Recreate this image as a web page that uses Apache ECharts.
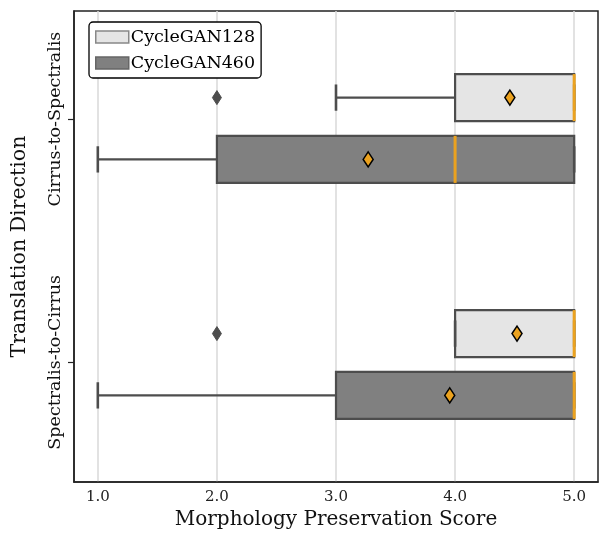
<!DOCTYPE html>
<html>
<head>
<meta charset="utf-8">
<script src="https://cdn.jsdelivr.net/npm/echarts@6/dist/echarts.min.js"></script>
<style>
html,body{margin:0;padding:0;background:#fff;}
#c{width:605px;height:540px;}
</style>
</head>
<body>
<div id="c"></div>
<script>
// ---- data ----
const categories = ['Cirrus-to-Spectralis', 'Spectralis-to-Cirrus'];
const seriesNames = ['CycleGAN128', 'CycleGAN460'];
// [whiskerLow, Q1, median, Q3, whiskerHigh] per category
const cyclegan128Box = [[3, 4, 5, 5, 5], [4, 4, 5, 5, 5]];
const cyclegan460Box = [[1, 2, 4, 5, 5], [1, 3, 5, 5, 5]];
const cyclegan128Mean = [4.46, 4.52];
const cyclegan460Mean = [3.27, 3.955];
// [categoryIndex, value]
const cyclegan128Outliers = [[0, 2], [1, 2]];
const cyclegan460Outliers = [];
const xTicks = [1.0, 2.0, 3.0, 4.0, 5.0];

// ---- layout / style ----
const FONT = 'DejaVu Serif';
const groupShift = [0.039, 0.009];
const dodge = [-0.127, 0.127];
const halfH = 0.0966;
const capHalf = 0.054;
const fills = ['#e5e5e5', '#808080'];
const lineCol = '#4d4d4d';
const medCol = '#eba21f';

function boxSeries(idx, boxes, means) {
  const data = boxes.map((b, i) => [i].concat(b).concat([means[i]]));
  return {
    type: 'custom',
    name: seriesNames[idx],
    data: data,
    z: 3,
    renderItem: function (params, api) {
      const cat = api.value(0);
      const yc = cat + groupShift[cat] + dodge[idx];
      const lo = api.value(1), q1 = api.value(2), med = api.value(3), q3 = api.value(4), hi = api.value(5), mean = api.value(6);
      const pTop = api.coord([q1, yc - halfH]);
      const pBot = api.coord([q3, yc + halfH]);
      const pc = (v, dy) => api.coord([v, yc + (dy || 0)]);
      const lw = 2.2;
      const ls = {stroke: lineCol, lineWidth: lw};
      const children = [];
      children.push({type: 'line', shape: {x1: pc(lo)[0], y1: pc(lo)[1], x2: pc(q1)[0], y2: pc(q1)[1]}, style: ls});
      children.push({type: 'line', shape: {x1: pc(q3)[0], y1: pc(q3)[1], x2: pc(hi)[0], y2: pc(hi)[1]}, style: ls});
      children.push({type: 'rect', shape: {x: pTop[0], y: pTop[1], width: pBot[0] - pTop[0], height: pBot[1] - pTop[1]},
        style: {fill: fills[idx], stroke: lineCol, lineWidth: lw}});
      [lo, hi].forEach(v => {
        const a = pc(v, -capHalf), b = pc(v, capHalf);
        children.push({type: 'line', shape: {x1: a[0], y1: a[1], x2: b[0], y2: b[1]}, style: {stroke: lineCol, lineWidth: 2.6}});
      });
      const m1 = pc(med, -halfH), m2 = pc(med, halfH);
      children.push({type: 'line', shape: {x1: m1[0], y1: m1[1], x2: m2[0], y2: m2[1]}, style: {stroke: medCol, lineWidth: 3}});
      const mp = pc(mean);
      children.push({type: 'polygon', shape: {points: [[mp[0], mp[1] - 7.5], [mp[0] + 5, mp[1]], [mp[0], mp[1] + 7.5], [mp[0] - 5, mp[1]]]},
        style: {fill: medCol, stroke: '#000', lineWidth: 1.5}});
      return {type: 'group', children: children};
    }
  };
}

function outlierSeries(idx, pts) {
  return {
    type: 'custom',
    name: seriesNames[idx] + ' outliers',
    data: pts,
    z: 4,
    renderItem: function (params, api) {
      const cat = api.value(0);
      const p = api.coord([api.value(1), cat + groupShift[cat] + dodge[idx]]);
      return {type: 'polygon', shape: {points: [[p[0], p[1] - 7], [p[0] + 4.5, p[1]], [p[0], p[1] + 7], [p[0] - 4.5, p[1]]]},
        style: {fill: lineCol, stroke: lineCol, lineWidth: 1}};
    }
  };
}

const chart = echarts.init(document.getElementById('c'), null, {renderer: 'canvas'});
chart.setOption({
  animation: false,
  backgroundColor: '#fff',
  textStyle: {fontFamily: FONT},
  grid: {left: 74, right: 7, top: 11, bottom: 58, containLabel: false,
    show: true, borderColor: '#222', borderWidth: 1.5, backgroundColor: 'transparent'},
  legend: {
    show: true,
    orient: 'vertical',
    left: 89, top: 22,
    itemWidth: 33, itemHeight: 12,
    itemGap: 8,
    padding: [6, 6, 6, 6],
    borderColor: '#000', borderWidth: 1.3, borderRadius: 4,
    backgroundColor: '#fff',
    textStyle: {fontFamily: FONT, fontSize: 17.5, color: '#000', padding: [0, 0, 0, -3]},
    data: [
      {name: seriesNames[0], icon: 'rect', itemStyle: {color: fills[0], borderColor: '#888', borderWidth: 1.5}},
      {name: seriesNames[1], icon: 'rect', itemStyle: {color: fills[1], borderColor: '#666', borderWidth: 1.5}}
    ]
  },
  xAxis: {
    type: 'value', min: 0.8, max: 5.2,
    axisLine: {show: true, onZero: false, lineStyle: {color: '#222', width: 1.5}},
    axisTick: {show: false, customValues: xTicks},
    axisLabel: {customValues: xTicks, formatter: v => v.toFixed(1), color: '#222', fontFamily: FONT, fontSize: 15, margin: 8},
    splitLine: {show: true, customValues: xTicks, lineStyle: {color: '#d9d9d9', width: 1.5}},
    name: 'Morphology Preservation Score', nameLocation: 'middle', nameGap: 26,
    nameTextStyle: {fontFamily: FONT, fontSize: 20, color: '#111'}
  },
  yAxis: {
    type: 'value', min: -0.444, max: 1.492, inverse: true,
    axisLine: {show: true, onZero: false, lineStyle: {color: '#222', width: 1.5}},
    axisTick: {show: true, customValues: [0, 1], length: 6, lineStyle: {color: '#222', width: 1.2}},
    axisLabel: {customValues: [0, 1], formatter: v => categories[Math.round(v)], rotate: 90, color: '#111', fontFamily: FONT, fontSize: 17.5, margin: 10},
    splitLine: {show: false},
    name: 'Translation Direction', nameLocation: 'middle', nameGap: 44,
    nameTextStyle: {fontFamily: FONT, fontSize: 20.5, color: '#111'}
  },
  series: [
    boxSeries(0, cyclegan128Box, cyclegan128Mean),
    boxSeries(1, cyclegan460Box, cyclegan460Mean),
    outlierSeries(0, cyclegan128Outliers),
    outlierSeries(1, cyclegan460Outliers)
  ]
});
</script>
</body>
</html>
